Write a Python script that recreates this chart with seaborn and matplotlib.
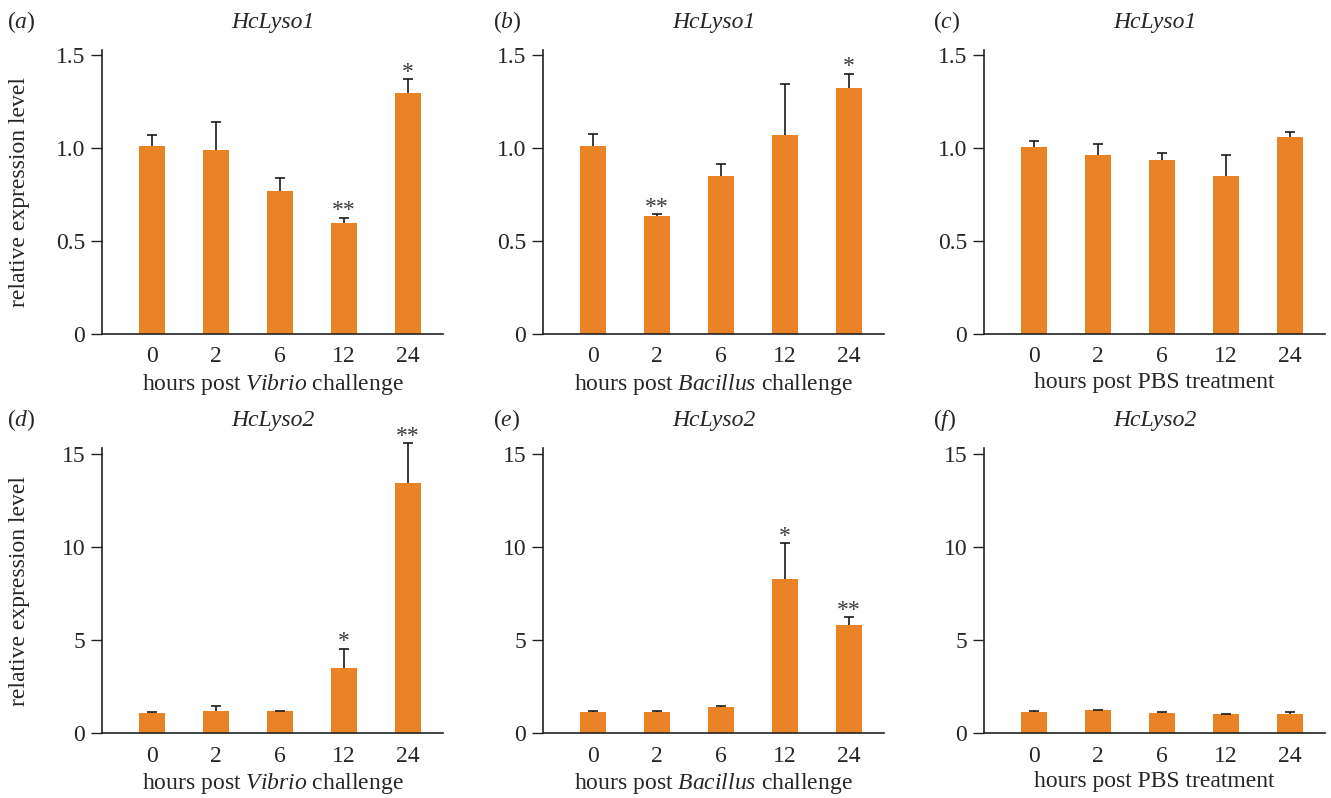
import numpy as np
import pandas as pd
import matplotlib
matplotlib.use('agg')
import matplotlib.pyplot as plt
import seaborn as sns

# values (mean, upper error)
hours = ['0', '2', '6', '12', '24']

lyso1_vibrio = [1.01, 0.99, 0.77, 0.595, 1.295]
lyso1_vibrio_err = [0.06, 0.15, 0.07, 0.03, 0.075]
lyso1_bacillus = [1.01, 0.636, 0.852, 1.071, 1.325]
lyso1_bacillus_err = [0.063, 0.008, 0.06, 0.272, 0.075]
lyso1_pbs = [1.008, 0.961, 0.937, 0.849, 1.058]
lyso1_pbs_err = [0.029, 0.059, 0.035, 0.114, 0.029]

lyso2_vibrio = [1.10, 1.17, 1.17, 3.52, 13.44]
lyso2_vibrio_err = [0.05, 0.30, 0.03, 1.02, 2.13]
lyso2_bacillus = [1.15, 1.15, 1.42, 8.28, 5.80]
lyso2_bacillus_err = [0.05, 0.05, 0.05, 1.92, 0.43]
lyso2_pbs = [1.15, 1.24, 1.08, 1.01, 1.04]
lyso2_pbs_err = [0.05, 0.01, 0.07, 0.03, 0.11]

stars_a = ['', '', '', '**', '*']
stars_b = ['', '**', '', '', '*']
stars_c = ['', '', '', '', '']
stars_d = ['', '', '', '*', '**']
stars_e = ['', '', '', '*', '**']
stars_f = ['', '', '', '', '']

panel_letters = ['a', 'b', 'c', 'd', 'e', 'f']
genes = ['HcLyso1', 'HcLyso1', 'HcLyso1', 'HcLyso2', 'HcLyso2', 'HcLyso2']
xlabels = [r'hours post $\mathit{Vibrio}$ challenge',
           r'hours post $\mathit{Bacillus}$ challenge',
           'hours post PBS treatment'] * 2
yticks1 = [0, 0.5, 1.0, 1.5]
yticklabels1 = ['0', '0.5', '1.0', '1.5']
yticks2 = [0, 5, 10, 15]
yticklabels2 = ['0', '5', '10', '15']

sns.set_theme(style='ticks')
plt.rcParams['font.family'] = ['Liberation Serif', 'DejaVu Serif']
plt.rcParams['mathtext.fontset'] = 'custom'
plt.rcParams['mathtext.rm'] = 'Liberation Serif'
plt.rcParams['mathtext.it'] = 'Liberation Serif:italic'

bar_color = '#E98325'
fs = 17
W, H = 1331, 798
fig = plt.figure(figsize=(W / 100, H / 100), dpi=100)

panels = [
    (lyso1_vibrio, lyso1_vibrio_err, stars_a),
    (lyso1_bacillus, lyso1_bacillus_err, stars_b),
    (lyso1_pbs, lyso1_pbs_err, stars_c),
    (lyso2_vibrio, lyso2_vibrio_err, stars_d),
    (lyso2_bacillus, lyso2_bacillus_err, stars_e),
    (lyso2_pbs, lyso2_pbs_err, stars_f),
]
lefts = [102, 543, 984]
label_x = [7, 493, 933]

for k, (vals, errs, stars) in enumerate(panels):
    row, col = divmod(k, 3)
    if row == 0:
        top, bottom = 50, 334
        ymax = 1.527
        ytk, ytl = yticks1, yticklabels1
    else:
        top, bottom = 448, 733
        ymax = 15.32
        ytk, ytl = yticks2, yticklabels2
    left = lefts[col]
    ax = fig.add_axes([left / W, 1 - bottom / H, 341 / W, (bottom - top) / H])

    df = pd.DataFrame({'hours': hours, 'level': vals})
    sns.barplot(data=df, x='hours', y='level', order=hours, color=bar_color,
                saturation=1, width=0.4, errorbar=None, linewidth=0, ax=ax)
    xs = np.arange(len(hours))
    eb = ax.errorbar(xs, vals, yerr=[np.zeros(len(errs)), errs], fmt='none',
                     ecolor='#1a1a1a', elinewidth=1.2, capsize=3.5, capthick=1.2)
    # only the upper whisker is drawn in the original
    eb[1][0].set_visible(False)
    for art in list(eb[1]) + list(eb[2]):
        art.set_clip_on(False)
    for x, v, e, s in zip(xs, vals, errs, stars):
        if s:
            ax.annotate(s, (x, v + e), xytext=(0, 1), textcoords='offset points',
                        ha='center', va='baseline', fontsize=fs, color='#3a3a3a',
                        annotation_clip=False)

    ax.set_xlim(-0.781, 4.547)
    ax.set_ylim(0, ymax)
    ax.set_yticks(ytk)
    ax.set_yticklabels(ytl)
    sns.despine(ax=ax)
    for sp in ['left', 'bottom']:
        ax.spines[sp].set_color('#222222')
        ax.spines[sp].set_linewidth(1.2)
    ax.tick_params(axis='y', length=8, width=1.0, color='#222222', pad=4, labelsize=fs)
    ax.tick_params(axis='x', length=0, pad=9, labelsize=fs)
    ax.set_xlabel(xlabels[k], fontsize=fs, labelpad=3)
    if col == 0:
        ax.set_ylabel('relative expression level', fontsize=fs)
        ax.yaxis.set_label_coords(-0.211, 0.5)
    else:
        ax.set_ylabel('')
    ax.set_title(genes[k], fontsize=fs, style='italic', pad=16)
    fig.text(label_x[col] / W, 1 - (top - 28) / H,
             r'($\mathit{%s}$)' % panel_letters[k],
             fontsize=fs, va='center', ha='left')

plt.savefig('out.png', dpi=100)
plt.close()
